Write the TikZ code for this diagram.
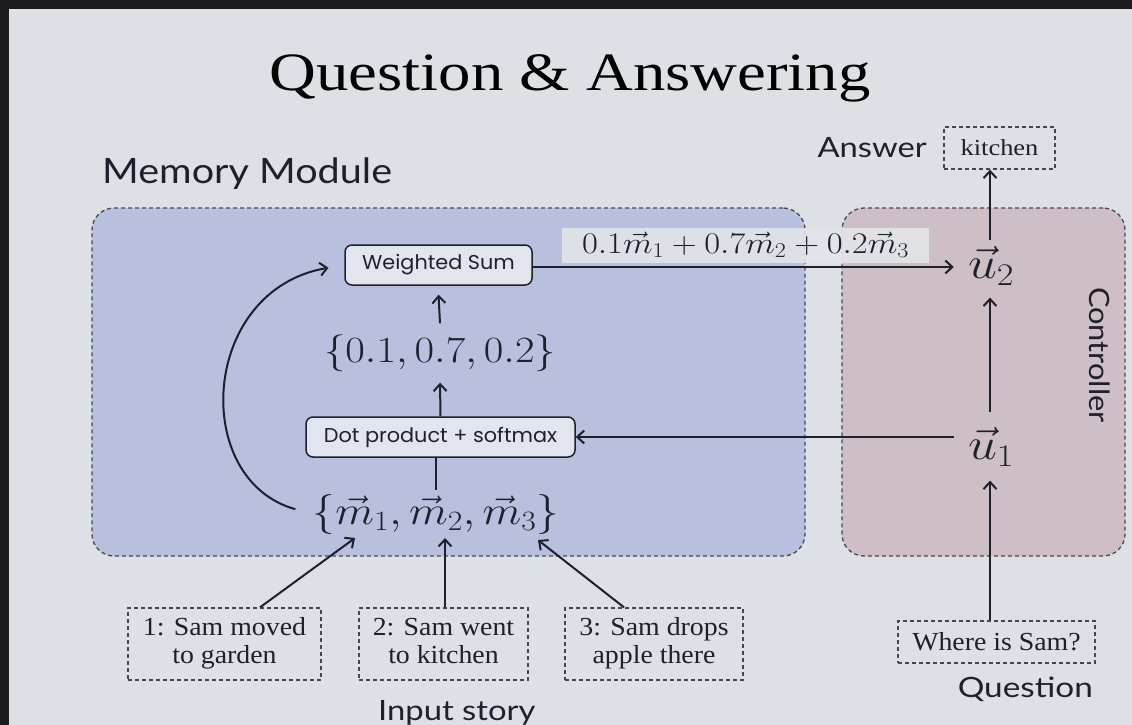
\documentclass[tikz,border=0pt]{standalone}
\usepackage{fix-cm}
\usepackage{graphicx}
\usepackage{fontspec}
\setmainfont{Liberation Serif}
\newfontfamily\labelsans{Lato}
\newfontfamily\opsans{Poppins}
\usetikzlibrary{arrows.meta}

% horizontal widening used for the slide's lettering
\newcommand\stretchx[2][1.15]{\scalebox{#1}[1]{#2}}

\definecolor{slidebg}{RGB}{221,225,229}
\definecolor{frame}{RGB}{28,28,30}
\definecolor{memblue}{RGB}{185,192,222}
\definecolor{ctrlpink}{RGB}{206,191,199}
\definecolor{opfill}{RGB}{226,229,237}
\definecolor{labelfill}{RGB}{226,229,233}
\definecolor{ink}{RGB}{30,32,45}
\definecolor{dashink}{RGB}{70,72,80}

\tikzset{
  region/.style={draw=dashink, dash pattern=on 4pt off 3pt, line width=1.3pt,
                 rounded corners=22pt, inner sep=0pt},
  storybox/.style={draw=dashink, dash pattern=on 4pt off 3pt, line width=1.3pt,
                   align=center, inner sep=0pt,
                   font=\fontsize{26}{28}\selectfont, text=ink},
  opbox/.style={draw=ink, line width=1.5pt, rounded corners=7pt, fill=opfill,
                inner sep=0pt, font=\opsans\fontsize{20}{24}\selectfont, text=ink},
  caption/.style={font=\labelsans\fontsize{28}{32}\selectfont, text=ink, inner sep=0pt},
  mathlbl/.style={inner sep=0pt, text=ink},
  flow/.style={draw=ink, line width=2pt, -{Straight Barb[length=7pt,width=13pt,line width=2pt]}},
  plain/.style={draw=ink, line width=2pt},
}

\begin{document}
\begin{tikzpicture}[x=1pt,y=-1pt]
  % slide background and dark photo frame
  \fill[frame] (0,0) rectangle (1132,725);
  \fill[slidebg] (9,9) rectangle (1132,725);
  \useasboundingbox (0,0) rectangle (1132,725);

  % title
  \node[anchor=base, font=\fontsize{54}{60}\selectfont, text=black, inner sep=0pt]
    (title) at (570,90) {\stretchx[1.2]{Question \& Answering}};

  % module regions
  \node[region, fill=memblue, minimum width=713pt, minimum height=348pt] (mem) at (448.5,382) {};
  \node[region, fill=ctrlpink, minimum width=283pt, minimum height=348pt] (ctrl) at (983.5,382) {};

  \node[caption, anchor=base west, font=\labelsans\fontsize{35}{40}\selectfont]
    (memlabel) at (102,183) {\stretchx[1.13]{Memory Module}};
  \node[caption, rotate=-90] (ctrllabel) at (1100,355) {\stretchx[1.1]{Controller}};

  % answer
  \node[caption, anchor=base east] (anslabel) at (927,157) {\stretchx[1.17]{Answer}};
  \node[storybox, minimum width=111pt, minimum height=42pt, font=\fontsize{23}{26}\selectfont]
    (answer) at (999.5,148) {\stretchx{kitchen}};

  % memory module internals
  \node[opbox, minimum width=187pt, minimum height=40pt] (ws) at (438.5,265) {\stretchx[1.04]{Weighted Sum}};
  \node[mathlbl, font=\fontsize{37}{40}\selectfont] (probs) at (440,353)
    {\stretchx{$\{0.1,0.7,0.2\}$}};
  \node[opbox, minimum width=269pt, minimum height=40pt] (dot) at (440.5,437) {\stretchx[1.04]{Dot product + softmax}};
  \node[mathlbl, font=\fontsize{40}{44}\selectfont] (mems) at (436,514)
    {\stretchx[1.13]{$\{\vec{m}_1,\vec{m}_2,\vec{m}_3\}$}};

  % controller internals
  \node[mathlbl, font=\fontsize{45}{48}\selectfont] (u2) at (991,266) {\stretchx{$\vec{u}_2$}};
  \node[mathlbl, font=\fontsize{45}{48}\selectfont] (u1) at (991,447) {\stretchx{$\vec{u}_1$}};

  % input story and question
  \node[storybox, minimum width=193pt, minimum height=72pt] (s1) at (224.5,644)
    {\stretchx[1.07]{\begin{tabular}{@{}c@{}}1: Sam moved\\to garden\end{tabular}}};
  \node[storybox, minimum width=169pt, minimum height=72pt] (s2) at (443.5,644)
    {\stretchx[1.07]{\begin{tabular}{@{}c@{}}2: Sam went\\to kitchen\end{tabular}}};
  \node[storybox, minimum width=178pt, minimum height=72pt] (s3) at (654,644)
    {\stretchx[1.07]{\begin{tabular}{@{}c@{}}3: Sam drops\\apple there\end{tabular}}};
  \node[caption, anchor=base west] (storylabel) at (378,720) {\stretchx[1.17]{Input story}};

  \node[storybox, minimum width=197pt, minimum height=42pt] (q) at (996.5,642) {\stretchx[1.07]{Where is Sam?}};
  \node[caption, anchor=base east] (qlabel) at (1093,697) {\stretchx[1.19]{Question}};

  % story sentences are embedded into the memory vectors
  \coordinate (m1in) at (355,538);
  \coordinate (m2in) at (445,538);
  \coordinate (m3in) at (538,540);
  \draw[flow] (s1.north -| 260,0) -- (m1in);
  \draw[flow] (s2.north -| m2in) -- (m2in);
  \draw[flow] (s3.north -| 624,0) -- (m3in);

  % attention over memories
  \draw[plain] (dot.south -| mems.north) -- ([yshift=4pt]mems.north);
  \draw[flow] (dot.north) -- ([yshift=-11pt]probs.south);
  \draw[flow] ([yshift=11pt]probs.north) -- ([yshift=-9pt]ws.south);

  \draw[flow, shorten <=18pt, shorten >=16pt] (mems.west)
     .. controls (190,480) and (200,290) .. (ws.west);

  % weighted sum feeding the controller, with its label
  \draw[flow] ([yshift=-2pt]ws.east) -- ([xshift=-14pt,yshift=-2pt]u2.west |- ws.east);
  \node[fill=labelfill, fill opacity=0.9, text opacity=1, mathlbl,
        minimum width=367pt, minimum height=35pt, font=\fontsize{30}{34}\selectfont]
    (wslabel) at (745.5,245) {\stretchx{$0.1\vec{m}_1+0.7\vec{m}_2+0.2\vec{m}_3$}};

  % controller updates
  \draw[flow] ([xshift=-14pt]u1.west |- dot.east) -- (dot.east);
  \draw[flow] (u1.north -| 990,0) ++(0,-15) -- ([yshift=-12pt]u2.south -| 990,0);
  \draw[flow] (q.north -| 990,0) -- ([yshift=-14pt]u1.south -| 990,0);
  \draw[flow] ([yshift=6pt]u2.north -| 990,0) -- (answer.south -| 990,0);
\end{tikzpicture}
\end{document}
